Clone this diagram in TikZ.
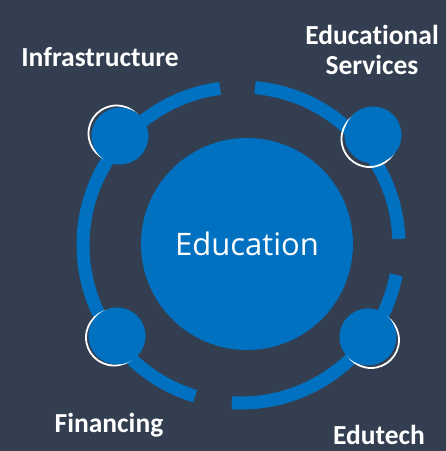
\documentclass[tikz,border=0pt]{standalone}
\usepackage{fontspec}
\setmainfont[RawFeature=-liga]{Carlito}
\newfontfamily\hubfont{Open Sans}
\usetikzlibrary{positioning,calc}
\definecolor{slate}{HTML}{333F50}
\definecolor{edublue}{HTML}{0070C0}

\begin{document}
\begin{tikzpicture}[
  x=1pt, y=1pt,
  ring/.style={draw=edublue, line width=13pt},
  hub/.style={circle, fill=edublue, minimum size=212pt, inner sep=0pt, text=white, font=\hubfont\fontsize{31}{36}\selectfont},
  dot/.style={circle, fill=edublue, minimum size=57pt, inner sep=0pt},
  halo/.style={circle, draw=white, line width=1.8pt, minimum size=56pt, inner sep=0pt},
  lbl/.style={text=white, font=\bfseries\fontsize{27.5}{30}\selectfont, inner sep=0pt, align=center},
]
\useasboundingbox (0,0) rectangle (446,451);
\fill[slate] (0,0) rectangle (446,451);
\coordinate (c) at (241,206);

% broken ring
\draw[ring] ($(c)+(2.2:158)$) arc[start angle=2.2, end angle=84.9, radius=158];
\draw[ring] ($(c)+(97.6:158)$) arc[start angle=97.6, end angle=253.1, radius=158];
\draw[ring] ($(c)+(266.7:158)$) arc[start angle=266.7, end angle=349.1, radius=158];

\node[hub] (edu) at (247,207) {Education};

% satellites with white halo
\node[halo] (infra-halo) at (116.5,317.5) {};
\node[dot] (infra) at (120,315) {};
\node[halo] (services-halo) at (369.5,312) {};
\node[dot] (services) at (373,316) {};
\node[halo] (financing-halo) at (114,113.5) {};
\node[dot] (financing) at (117,115) {};
\node[halo] (edutech-halo) at (371,111) {};
\node[dot] (edutech) at (368,114) {};

\node[lbl, anchor=base] (infra-lbl) at (100,384) {Infrastructure};
\node[lbl, anchor=base] (services-lbl) at (372,376) {Educational\\Services};
\node[lbl, anchor=base] (financing-lbl) at (109,19) {Financing};
\node[lbl, anchor=base] (edutech-lbl) at (379,6.5) {Edutech};
\end{tikzpicture}
\end{document}
